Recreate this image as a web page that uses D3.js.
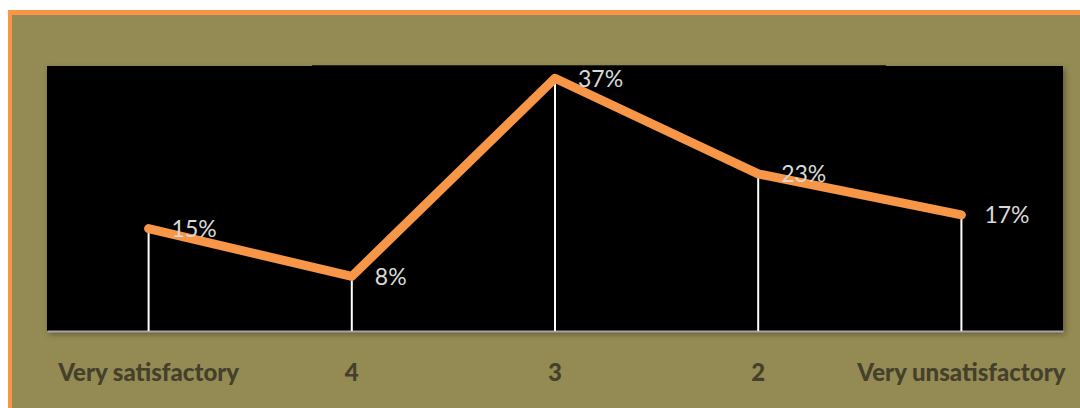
<!DOCTYPE html>
<html>
<head>
<meta charset="utf-8">
<script src="https://cdn.jsdelivr.net/npm/d3@7"></script>
<style>
  html, body { margin: 0; padding: 0; background: #ffffff; }
  svg { display: block; }
</style>
</head>
<body>
<svg id="chart" width="1080" height="408"></svg>
<script>
// Satisfaction rating distribution (share of respondents, %)
const categories = ["Very satisfactory", "4", "3", "2", "Very unsatisfactory"];
const shares = [15, 8, 37, 23, 17];
const valueLabels = ["15%", "8%", "37%", "23%", "17%"];

const svg = d3.select("#chart");
const W = 1080, H = 408;

// Outer frame: orange border around an olive panel
svg.append("rect").attr("x", 8).attr("y", 10).attr("width", W).attr("height", H)
  .attr("fill", "#F79646");
svg.append("rect").attr("x", 12).attr("y", 15).attr("width", W).attr("height", H)
  .attr("fill", "#948A54");

// Plot area
const plot = { left: 47, top: 66, right: 1063, bottom: 331 };

const defs = svg.append("defs");
const shadow = defs.append("filter").attr("id", "shadow")
  .attr("x", "-5%").attr("y", "-5%").attr("width", "110%").attr("height", "120%");
shadow.append("feDropShadow").attr("dx", 2).attr("dy", 3).attr("stdDeviation", 3)
  .attr("flood-color", "#000").attr("flood-opacity", 0.35);

svg.append("rect")
  .attr("x", plot.left).attr("y", plot.top)
  .attr("width", plot.right - plot.left).attr("height", plot.bottom - plot.top)
  .attr("fill", "#000000")
  .attr("filter", "url(#shadow)");

// thin dark seam along part of the top edge
svg.append("line")
  .attr("x1", 312).attr("x2", 886).attr("y1", plot.top - 0.5).attr("y2", plot.top - 0.5)
  .attr("stroke", "#2a2716").attr("stroke-width", 1);

const x = d3.scaleBand().domain(categories).range([plot.left, plot.right]).padding(0);
const cx = d => x(d) + x.bandwidth() / 2;
const y = d3.scaleLinear().domain([0, 38.8]).range([plot.bottom, plot.top]);

// Category axis along the bottom
const xAxis = d3.axisBottom(x).tickSize(0).tickPadding(33);
const gx = svg.append("g").attr("transform", `translate(0,${plot.bottom})`).call(xAxis);
gx.select(".domain").attr("stroke", "#A6A6A6").attr("stroke-width", 2);
gx.selectAll("text")
  .attr("fill", "#45402A")
  .attr("font-family", "Lato, 'Open Sans', sans-serif")
  .attr("font-weight", "900")
  .attr("font-size", "24px");

const pts = categories.map((c, i) => ({ c, v: shares[i], label: valueLabels[i] }));

// Drop lines from each point to the axis
svg.append("g").selectAll("line").data(pts).join("line")
  .attr("x1", d => cx(d.c)).attr("x2", d => cx(d.c))
  .attr("y1", d => y(d.v)).attr("y2", plot.bottom)
  .attr("stroke", "#ffffff").attr("stroke-width", 2);

// Series line
const line = d3.line().x(d => cx(d.c)).y(d => y(d.v));
svg.append("path").datum(pts)
  .attr("d", line)
  .attr("fill", "none")
  .attr("stroke", "#F79646")
  .attr("stroke-width", 9)
  .attr("stroke-linecap", "round")
  .attr("stroke-linejoin", "round");

// Value labels to the right of each point
svg.append("g").selectAll("text").data(pts).join("text")
  .attr("x", d => cx(d.c) + 23)
  .attr("y", d => y(d.v))
  .attr("dy", "0.36em")
  .attr("fill", "#D9D9D9")
  .attr("font-family", "Lato, 'Open Sans', sans-serif")
  .attr("font-size", "23px")
  .text(d => d.label);
</script>
</body>
</html>
